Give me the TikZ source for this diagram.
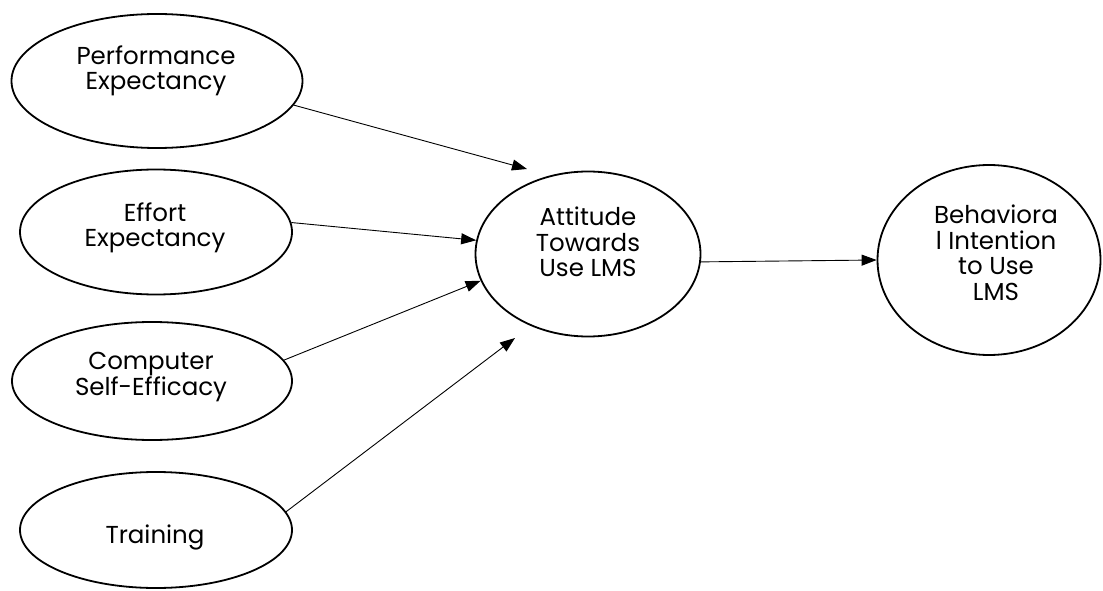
\documentclass[tikz,border=0pt]{standalone}
\usepackage{fontspec}
\setmainfont{Poppins}
\usetikzlibrary{arrows.meta,shapes.geometric}
\begin{document}
\begin{tikzpicture}[x=1pt,y=1pt,>={Triangle[length=15pt,width=11pt]},
    var/.style={draw,ellipse,line width=1.8pt,inner sep=0pt},
    txt/.style={align=center,inner sep=0pt,font=\fontsize{24.5}{25.5}\selectfont},
    arr/.style={->,line width=0.9pt}]
    \useasboundingbox (0,0) rectangle (1103,590);
    % ellipses
    \node[var,minimum width=291,minimum height=134](pe)at(157,509){};
    \node[var,minimum width=272,minimum height=125](ee)at(156,358){};
    \node[var,minimum width=280,minimum height=118](cse)at(152,209){};
    \node[var,minimum width=272,minimum height=116](tr)at(156,60){};
    \node[var,minimum width=225,minimum height=165](att)at(588,336){};
    \node[var,minimum width=223,minimum height=190](bi)at(989,330){};
    % labels
    \node[txt](pe-t)at(156,519){Performance\\Expectancy};
    \node[txt](ee-t)at(155,362){Effort\\Expectancy};
    \node[txt](cse-t)at(151,213){Computer\\Self-Efficacy};
    \node[txt](tr-t)at(155,53){Training};
    \node[txt](att-t)at(588,348){Attitude\\Towards\\Use LMS};
    \node[txt](bi-t)at(996,337){Behaviora\\l Intention\\to Use\\LMS};
    % arrows
    \coordinate (pe-in) at (527,421);
    \coordinate (tr-in) at (515,252);
    \draw[arr](pe.-10)--(pe-in);
    \draw[arr](ee.4)--(att.173);
    \draw[arr](cse.9)--(att.194);
    \draw[arr](tr.8)--(tr-in);
    \draw[arr](att.-4)--(bi.west);
\end{tikzpicture}
\end{document}
